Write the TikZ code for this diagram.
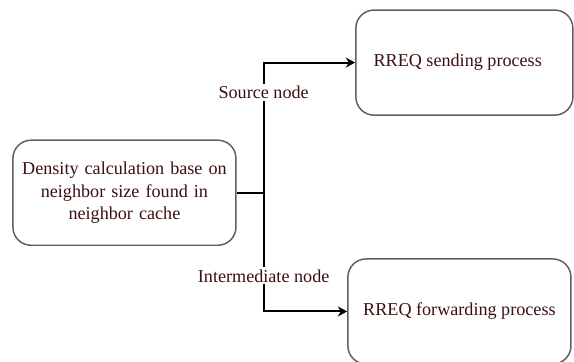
\documentclass[tikz,border=0pt]{standalone}
\usepackage{fontspec}
\setmainfont{Liberation Serif}
\usepackage{tikz}
\usetikzlibrary{positioning,calc,arrows.meta}

\definecolor{boxgray}{RGB}{95,95,95}
\definecolor{txtred}{RGB}{60,16,16}

\begin{document}
\begin{tikzpicture}
		\useasboundingbox (0,0) rectangle (15.13,-9.54);
		\tikzset{procbox/.style={draw=boxgray,line width=1.1pt,rounded corners=0.48cm,fill=white,text=txtred,align=center,minimum height=2.77cm,font=\fontsize{13.6}{17}\selectfont},
			branch/.style={line width=1.5pt,black},
			lbl/.style={fill=white,text=txtred,inner sep=1.5pt,font=\fontsize{13.6}{15}\selectfont}}
		\node[procbox, minimum width=5.88cm, text width=5.6cm] (dens) at (3.28,-5.08) {Density calculation base on\\ neighbor size found in\\ neighbor cache};
		\node[procbox, minimum width=5.72cm] (send) at (12.24,-1.65) {\hspace*{-0.35cm}\raisebox{1.5pt}{RREQ sending process}};
		\node[procbox, minimum width=5.88cm] (fwd) at (12.11,-8.21) {RREQ forwarding process};
		
		\coordinate[right=0.71cm of dens.east] (junc);
		
		\draw[branch] (dens.east)--(junc);
		\draw[branch,-{Stealth[length=7pt,width=7.5pt]}] (junc) |- node[lbl,pos=0.385] (srclbl) {Source node} (send.west);
		\draw[branch,-{Stealth[length=7pt,width=7.5pt]}] (junc) |- node[lbl,pos=0.35] (intlbl) {Intermediate node} (fwd.west);
	\end{tikzpicture}
\end{document}
